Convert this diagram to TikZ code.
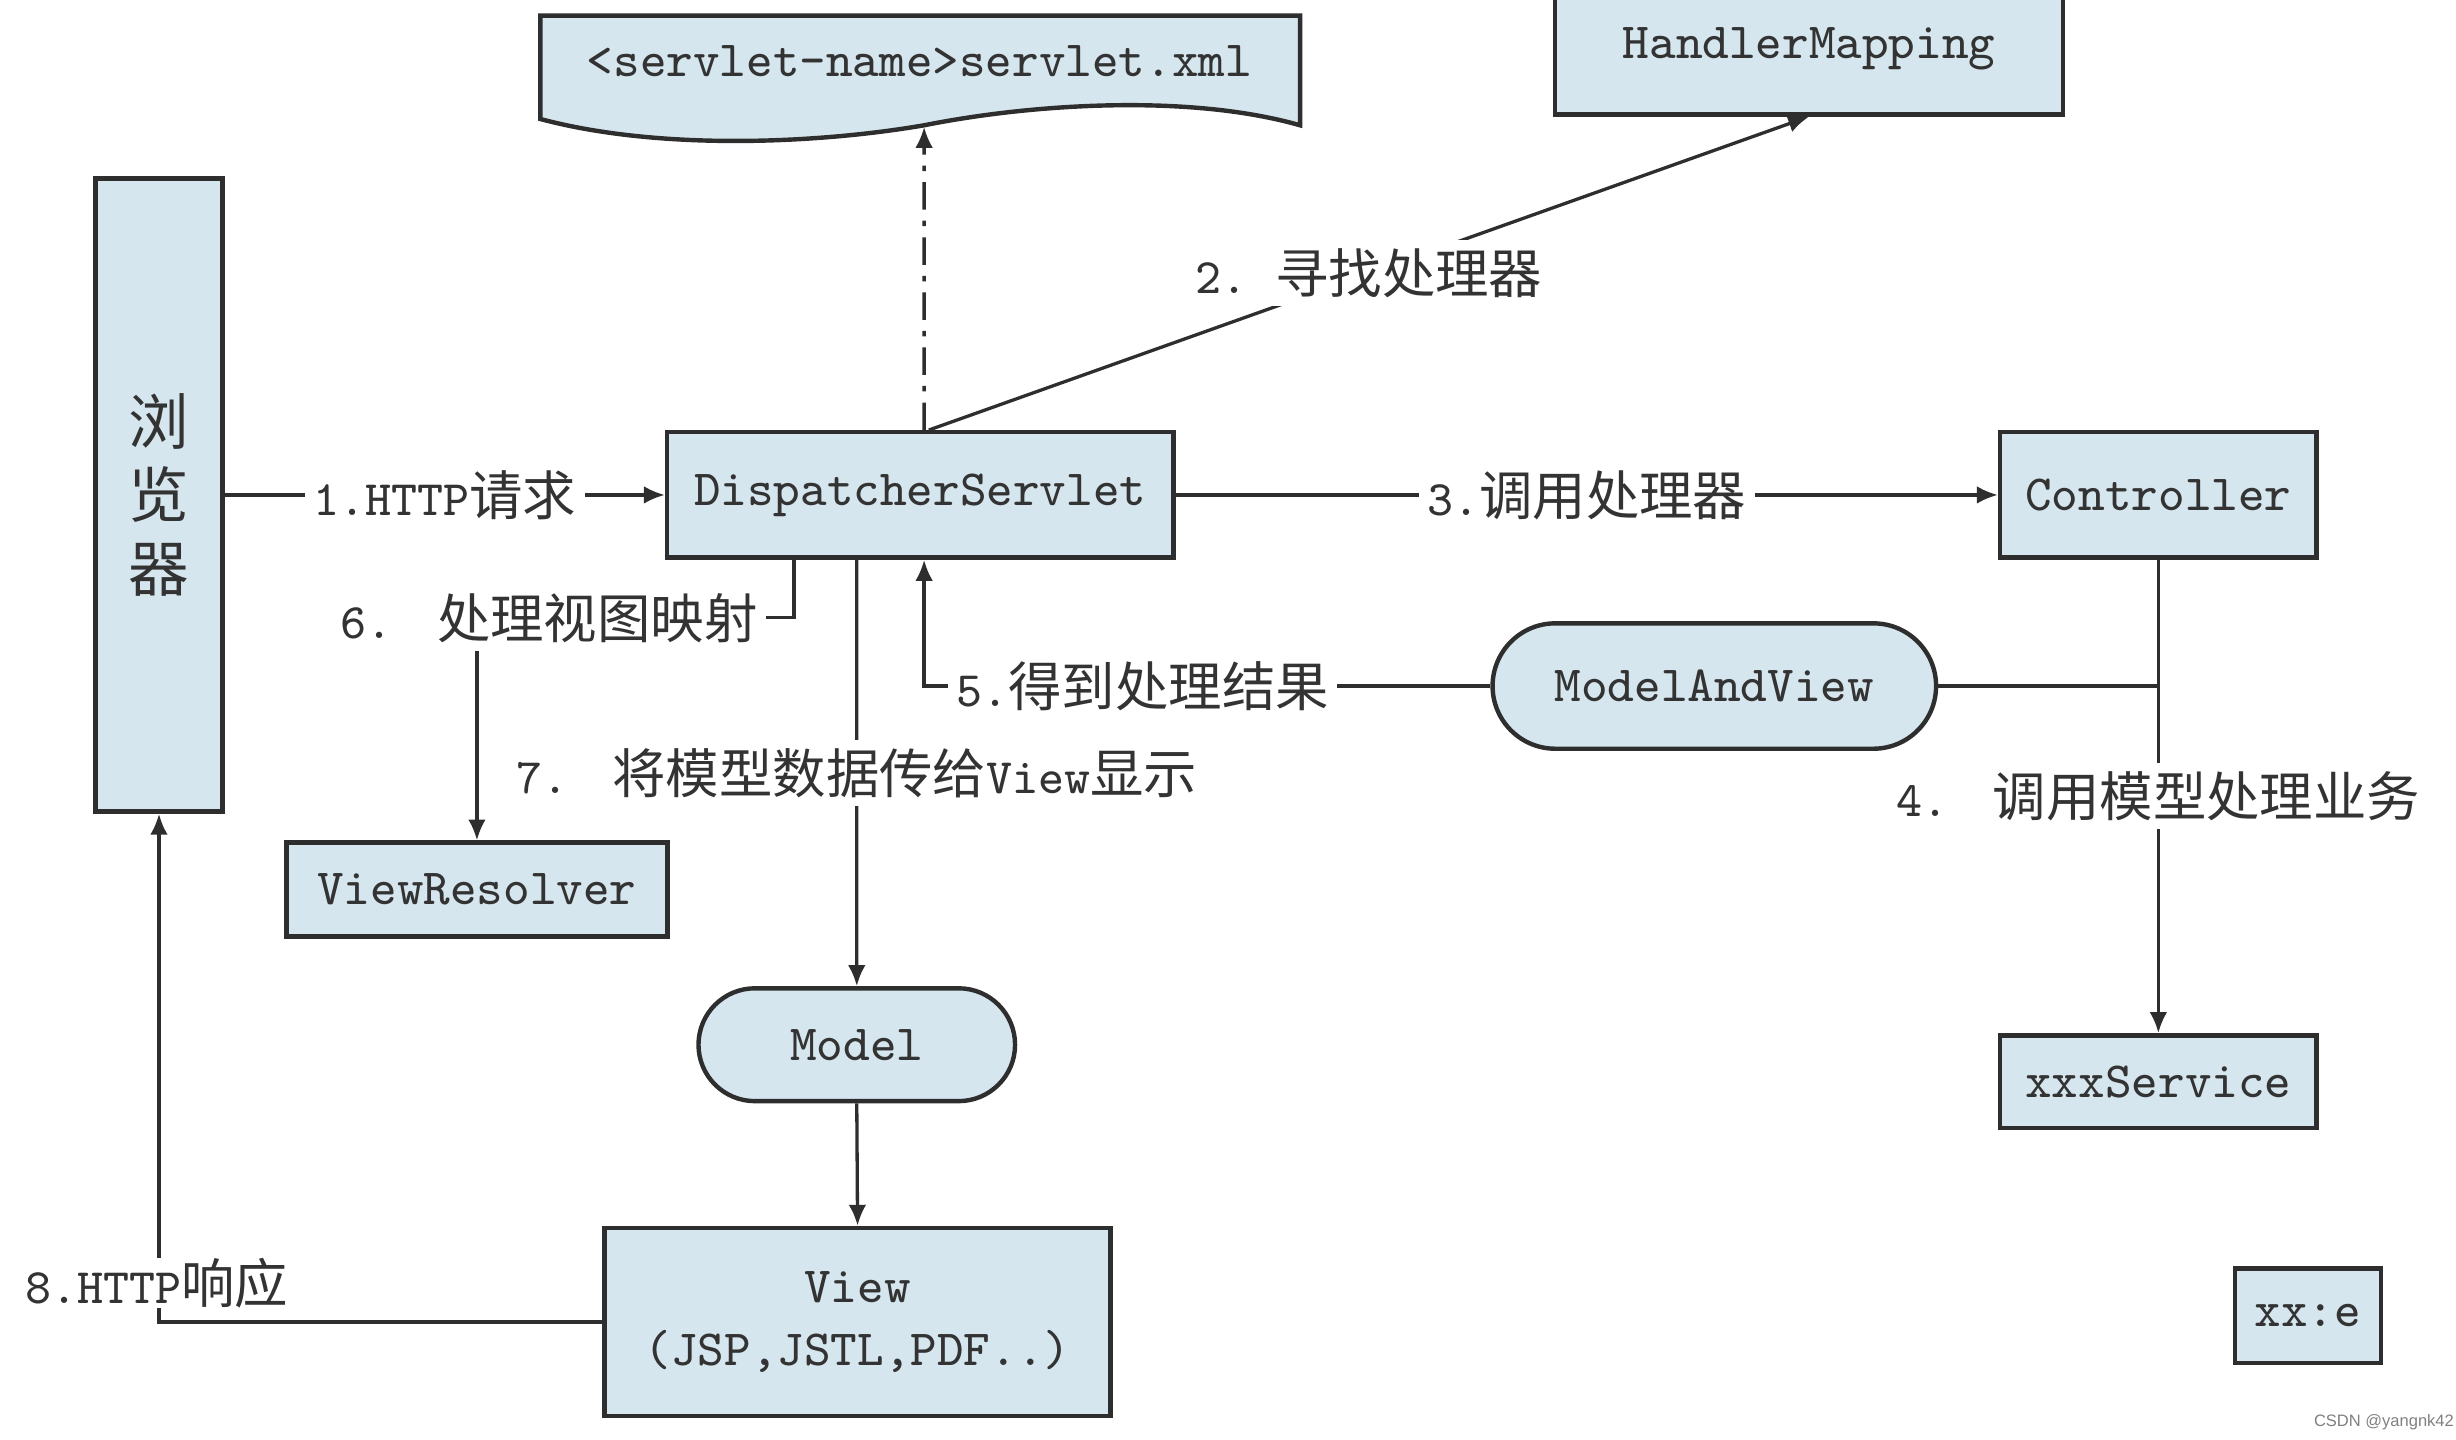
\documentclass[tikz,border=0pt]{standalone}
\usepackage{fontspec}
\newfontfamily\cjkf{Noto Sans CJK SC}
\newfontfamily\wmfont{Liberation Sans}
\usetikzlibrary{arrows.meta,shapes.misc}
\definecolor{boxfill}{HTML}{D6E6EE}
\definecolor{edgec}{HTML}{2E2E2E}
\definecolor{txtc}{HTML}{333333}
\newcommand\zhc[1]{{\cjkf\fontsize{9.7}{11}\selectfont #1}}
\newcommand\lat[1]{{\ttfamily\fontsize{9}{11}\selectfont #1}}
\tikzset{
  box/.style={draw=edgec, line width=0.8pt, fill=boxfill, inner sep=0pt,
    font=\ttfamily\fontsize{9.2}{11.4}\selectfont, text=txtc},
  pill/.style={box, rounded rectangle},
  conn/.style={draw=edgec, line width=0.6pt},
  arr/.style={conn, -{Latex[length=3.8pt,width=3.2pt]}},
  lbl/.style={fill=white, inner sep=1.5pt, text=txtc},
}
\begin{document}
\begin{tikzpicture}[x=0.01cm,y=-0.01cm]
\useasboundingbox (0,0) rectangle (1568,919);
% boxes
\node[box, minimum width=0.81cm, minimum height=4.04cm, align=center,
  font=\cjkf\fontsize{11}{13.4}\selectfont] (browser) at (101.5,316) {浏\\览\\器};
\node[box, minimum width=3.23cm, minimum height=0.8cm] (ds) at (587.5,316) {DispatcherServlet};
\node[box, minimum width=2.02cm, minimum height=0.8cm] (ctrl) at (1378,316) {Controller};
\node[box, minimum width=3.24cm, minimum height=0.84cm] (hm) at (1155,31) {HandlerMapping};
\node[pill, minimum width=2.83cm, minimum height=0.8cm] (mav) at (1094.5,438) {ModelAndView};
\node[box, minimum width=2.43cm, minimum height=0.6cm] (vr) at (304.5,568) {ViewResolver};
\node[pill, minimum width=2.02cm, minimum height=0.72cm] (model) at (547,667) {Model};
\node[box, minimum width=3.23cm, minimum height=1.2cm, align=center] (view) at (547.5,844) {View\\(JSP,JSTL,PDF..)};
\node[box, minimum width=2.02cm, minimum height=0.59cm] (svc) at (1378,690.5) {xxxService};
\node[box, minimum width=0.93cm, minimum height=0.6cm] (xxe) at (1473.5,840) {xx:e};
% servlet.xml document shape
\filldraw[draw=edgec, line width=0.8pt, fill=boxfill]
  (345,10) -- (830,10) -- (830,80)
  .. controls (760,60) and (660,66) .. (590,80)
  .. controls (520,92) and (420,96) .. (345,76) -- cycle;
\node[font=\ttfamily\fontsize{9.2}{11}\selectfont, text=txtc, inner sep=0pt] (xml) at (587,39) {<servlet-name>servlet.xml};
\coordinate (xmlb) at (590,81);
% connectors
\draw[arr, dash pattern=on 5pt off 2pt on 1pt off 2pt] ([xshift=0.025cm]ds.north) -- (xmlb);
\draw[arr] ([xshift=0.055cm]ds.north) -- node[lbl]{\lat{2.}\hspace{0.5em}\zhc{寻找处理器}} (hm.south);
\draw[arr] (browser.east) -- node[lbl]{\lat{1.HTTP}\zhc{请求}} (ds.west);
\draw[arr] (ds.east) -- node[lbl]{\lat{3.}\zhc{调用处理器}} (ctrl.west);
\draw[arr] (ctrl.south) -- node[lbl]{\lat{4.}\hspace{0.8em}\zhc{调用模型处理业务}} (svc.north);
\draw[conn] (mav.east) -- (mav.east -| ctrl.south);
\draw[arr] (mav.west) -| node[lbl, pos=0.307]{\lat{5.}\zhc{得到处理结果}} ([xshift=0.025cm]ds.south);
\draw[arr] ([xshift=-0.805cm]ds.south) -- ++(0,37) -| node[lbl, pos=0.386]{\lat{6.}\hspace{0.8em}\zhc{处理视图映射}} (vr.north);
\draw[arr] ([xshift=-0.405cm]ds.south) -- node[lbl]{\lat{7.}\hspace{0.8em}\zhc{将模型数据传给}\lat{View}\zhc{显示}} (model.north);
\draw[arr] (model.south) -- (view.north);
\draw[arr] (view.west) -| (browser.south);
\node[lbl, inner ysep=0pt] (l8) at (100,819) {\lat{8.HTTP}\zhc{响应}};
\node[font=\wmfont\fontsize{3}{4}\selectfont, text=gray, inner sep=0pt] (wm) at (1522,908) {CSDN @yangnk42};
\end{tikzpicture}
\end{document}
